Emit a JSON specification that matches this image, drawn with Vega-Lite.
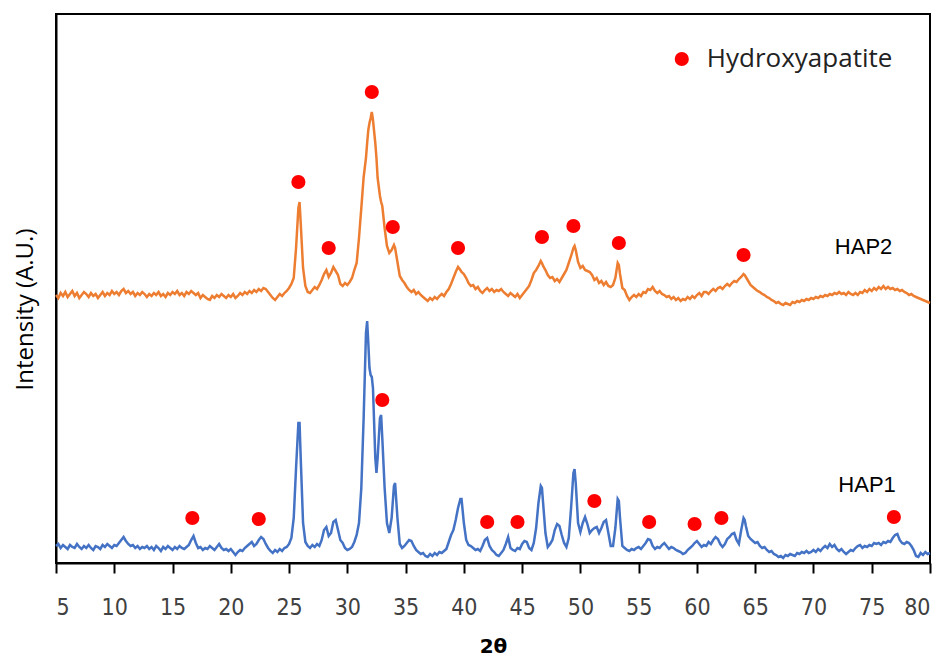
{
  "$schema": "https://vega.github.io/schema/vega-lite/v6.json",
  "width": 874,
  "height": 549,
  "autosize": {"type": "none"},
  "padding": {"left": 56, "top": 14, "right": 16, "bottom": 96},
  "config": {
    "view": {"stroke": "#000000", "strokeWidth": 2},
    "axis": {"grid": false}
  },
  "datasets": {
    "xrd": [
      {"t":5.0,"HAP1":22,"HAP2":273},{"t":5.2,"HAP1":24,"HAP2":270},{"t":5.4,"HAP1":20,"HAP2":275},{"t":5.6,"HAP1":23,"HAP2":272},{"t":5.8,"HAP1":21,"HAP2":276},
      {"t":6.0,"HAP1":19,"HAP2":271},{"t":6.2,"HAP1":23,"HAP2":274},{"t":6.4,"HAP1":21,"HAP2":277},{"t":6.6,"HAP1":20,"HAP2":272},{"t":6.8,"HAP1":24,"HAP2":275},
      {"t":7.0,"HAP1":21,"HAP2":270},{"t":7.2,"HAP1":19,"HAP2":273},{"t":7.4,"HAP1":22,"HAP2":276},{"t":7.6,"HAP1":20,"HAP2":274},{"t":7.8,"HAP1":23,"HAP2":271},
      {"t":8.0,"HAP1":20,"HAP2":275},{"t":8.2,"HAP1":18,"HAP2":272},{"t":8.4,"HAP1":22,"HAP2":274},{"t":8.6,"HAP1":21,"HAP2":270},{"t":8.8,"HAP1":19,"HAP2":273},
      {"t":9.0,"HAP1":23,"HAP2":276},{"t":9.2,"HAP1":21,"HAP2":272},{"t":9.4,"HAP1":24,"HAP2":275},{"t":9.6,"HAP1":22,"HAP2":273},{"t":9.8,"HAP1":20,"HAP2":277},
      {"t":10.0,"HAP1":23,"HAP2":274},{"t":10.2,"HAP1":22,"HAP2":276},{"t":10.4,"HAP1":25,"HAP2":273},{"t":10.6,"HAP1":28,"HAP2":277},{"t":10.8,"HAP1":31,"HAP2":279},
      {"t":11.0,"HAP1":27,"HAP2":275},{"t":11.2,"HAP1":24,"HAP2":277},{"t":11.4,"HAP1":22,"HAP2":274},{"t":11.6,"HAP1":23,"HAP2":276},{"t":11.8,"HAP1":20,"HAP2":272},
      {"t":12.0,"HAP1":22,"HAP2":275},{"t":12.2,"HAP1":19,"HAP2":273},{"t":12.4,"HAP1":21,"HAP2":276},{"t":12.6,"HAP1":20,"HAP2":274},{"t":12.8,"HAP1":22,"HAP2":271},
      {"t":13.0,"HAP1":19,"HAP2":274},{"t":13.2,"HAP1":21,"HAP2":272},{"t":13.4,"HAP1":18,"HAP2":275},{"t":13.6,"HAP1":22,"HAP2":273},{"t":13.8,"HAP1":20,"HAP2":276},
      {"t":14.0,"HAP1":17,"HAP2":272},{"t":14.2,"HAP1":21,"HAP2":274},{"t":14.4,"HAP1":19,"HAP2":271},{"t":14.6,"HAP1":22,"HAP2":275},{"t":14.8,"HAP1":20,"HAP2":273},
      {"t":15.0,"HAP1":18,"HAP2":276},{"t":15.2,"HAP1":21,"HAP2":274},{"t":15.4,"HAP1":19,"HAP2":277},{"t":15.6,"HAP1":22,"HAP2":273},{"t":15.8,"HAP1":20,"HAP2":275},
      {"t":16.0,"HAP1":19,"HAP2":272},{"t":16.2,"HAP1":21,"HAP2":276},{"t":16.4,"HAP1":23,"HAP2":274},{"t":16.6,"HAP1":28,"HAP2":277},{"t":16.8,"HAP1":32,"HAP2":275},
      {"t":17.0,"HAP1":25,"HAP2":273},{"t":17.2,"HAP1":20,"HAP2":275},{"t":17.4,"HAP1":21,"HAP2":270},{"t":17.6,"HAP1":18,"HAP2":273},{"t":17.8,"HAP1":20,"HAP2":271},
      {"t":18.0,"HAP1":19,"HAP2":269},{"t":18.2,"HAP1":22,"HAP2":268},{"t":18.4,"HAP1":20,"HAP2":272},{"t":18.6,"HAP1":18,"HAP2":270},{"t":18.8,"HAP1":21,"HAP2":273},
      {"t":19.0,"HAP1":24,"HAP2":271},{"t":19.2,"HAP1":20,"HAP2":274},{"t":19.4,"HAP1":18,"HAP2":272},{"t":19.6,"HAP1":19,"HAP2":270},{"t":19.8,"HAP1":17,"HAP2":273},
      {"t":20.0,"HAP1":19,"HAP2":271},{"t":20.2,"HAP1":16,"HAP2":274},{"t":20.4,"HAP1":13,"HAP2":270},{"t":20.6,"HAP1":16,"HAP2":272},{"t":20.8,"HAP1":18,"HAP2":275},
      {"t":21.0,"HAP1":17,"HAP2":273},{"t":21.2,"HAP1":20,"HAP2":276},{"t":21.4,"HAP1":22,"HAP2":274},{"t":21.6,"HAP1":24,"HAP2":277},{"t":21.8,"HAP1":26,"HAP2":275},
      {"t":22.0,"HAP1":22,"HAP2":278},{"t":22.2,"HAP1":24,"HAP2":276},{"t":22.4,"HAP1":28,"HAP2":279},{"t":22.6,"HAP1":31,"HAP2":277},{"t":22.8,"HAP1":29,"HAP2":280},
      {"t":23.0,"HAP1":24,"HAP2":279},{"t":23.2,"HAP1":20,"HAP2":276},{"t":23.4,"HAP1":17,"HAP2":273},{"t":23.6,"HAP1":15,"HAP2":270},{"t":23.8,"HAP1":18,"HAP2":268},
      {"t":24.0,"HAP1":16,"HAP2":271},{"t":24.2,"HAP1":19,"HAP2":274},{"t":24.4,"HAP1":17,"HAP2":272},{"t":24.6,"HAP1":20,"HAP2":275},{"t":24.8,"HAP1":21,"HAP2":277},
      {"t":25.0,"HAP1":24,"HAP2":280},{"t":25.2,"HAP1":30,"HAP2":284},{"t":25.4,"HAP1":50,"HAP2":290},{"t":25.6,"HAP1":100,"HAP2":320},{"t":25.8,"HAP1":145,"HAP2":360},
      {"t":25.9,"HAP1":145,"HAP2":366},{"t":26.0,"HAP1":110,"HAP2":345},{"t":26.2,"HAP1":45,"HAP2":300},{"t":26.4,"HAP1":26,"HAP2":282},{"t":26.6,"HAP1":22,"HAP2":276},
      {"t":26.8,"HAP1":20,"HAP2":275},{"t":27.0,"HAP1":23,"HAP2":278},{"t":27.2,"HAP1":21,"HAP2":281},{"t":27.4,"HAP1":24,"HAP2":279},{"t":27.6,"HAP1":22,"HAP2":283},
      {"t":27.8,"HAP1":28,"HAP2":288},{"t":28.0,"HAP1":38,"HAP2":294},{"t":28.2,"HAP1":41,"HAP2":298},{"t":28.4,"HAP1":32,"HAP2":291},{"t":28.6,"HAP1":35,"HAP2":295},
      {"t":28.8,"HAP1":46,"HAP2":301},{"t":29.0,"HAP1":48,"HAP2":297},{"t":29.2,"HAP1":38,"HAP2":293},{"t":29.4,"HAP1":28,"HAP2":284},{"t":29.6,"HAP1":25,"HAP2":282},
      {"t":29.8,"HAP1":20,"HAP2":285},{"t":30.0,"HAP1":18,"HAP2":283},{"t":30.2,"HAP1":19,"HAP2":286},{"t":30.4,"HAP1":21,"HAP2":290},{"t":30.6,"HAP1":26,"HAP2":298},
      {"t":30.8,"HAP1":33,"HAP2":305},{"t":31.0,"HAP1":45,"HAP2":330},{"t":31.2,"HAP1":80,"HAP2":360},{"t":31.4,"HAP1":150,"HAP2":391},{"t":31.6,"HAP1":235,"HAP2":410},
      {"t":31.7,"HAP1":247,"HAP2":425},{"t":31.8,"HAP1":225,"HAP2":438},{"t":31.9,"HAP1":200,"HAP2":445},{"t":32.0,"HAP1":193,"HAP2":450},{"t":32.1,"HAP1":191,"HAP2":456},
      {"t":32.2,"HAP1":180,"HAP2":448},{"t":32.4,"HAP1":110,"HAP2":425},{"t":32.5,"HAP1":95,"HAP2":410},{"t":32.6,"HAP1":110,"HAP2":390},{"t":32.8,"HAP1":150,"HAP2":372},
      {"t":32.9,"HAP1":153,"HAP2":366},{"t":33.0,"HAP1":130,"HAP2":362},{"t":33.2,"HAP1":80,"HAP2":340},{"t":33.4,"HAP1":45,"HAP2":322},{"t":33.6,"HAP1":35,"HAP2":315},
      {"t":33.8,"HAP1":50,"HAP2":318},{"t":34.0,"HAP1":82,"HAP2":323},{"t":34.1,"HAP1":85,"HAP2":320},{"t":34.3,"HAP1":50,"HAP2":306},{"t":34.5,"HAP1":24,"HAP2":292},
      {"t":34.7,"HAP1":20,"HAP2":288},{"t":34.9,"HAP1":22,"HAP2":285},{"t":35.1,"HAP1":25,"HAP2":281},{"t":35.3,"HAP1":28,"HAP2":278},{"t":35.5,"HAP1":27,"HAP2":276},
      {"t":35.7,"HAP1":22,"HAP2":278},{"t":35.9,"HAP1":18,"HAP2":274},{"t":36.1,"HAP1":16,"HAP2":276},{"t":36.3,"HAP1":14,"HAP2":273},{"t":36.5,"HAP1":15,"HAP2":271},
      {"t":36.7,"HAP1":12,"HAP2":269},{"t":36.9,"HAP1":11,"HAP2":267},{"t":37.1,"HAP1":14,"HAP2":270},{"t":37.3,"HAP1":12,"HAP2":268},{"t":37.5,"HAP1":15,"HAP2":271},
      {"t":37.7,"HAP1":13,"HAP2":269},{"t":37.9,"HAP1":16,"HAP2":272},{"t":38.1,"HAP1":15,"HAP2":274},{"t":38.3,"HAP1":17,"HAP2":272},{"t":38.5,"HAP1":19,"HAP2":276},
      {"t":38.7,"HAP1":26,"HAP2":279},{"t":38.9,"HAP1":33,"HAP2":284},{"t":39.1,"HAP1":38,"HAP2":290},{"t":39.3,"HAP1":48,"HAP2":296},{"t":39.5,"HAP1":60,"HAP2":301},
      {"t":39.7,"HAP1":69,"HAP2":298},{"t":39.8,"HAP1":69,"HAP2":296},{"t":40.0,"HAP1":45,"HAP2":294},{"t":40.2,"HAP1":28,"HAP2":290},{"t":40.4,"HAP1":23,"HAP2":285},
      {"t":40.6,"HAP1":22,"HAP2":282},{"t":40.8,"HAP1":20,"HAP2":283},{"t":41.0,"HAP1":18,"HAP2":279},{"t":41.2,"HAP1":19,"HAP2":281},{"t":41.4,"HAP1":17,"HAP2":277},
      {"t":41.6,"HAP1":22,"HAP2":275},{"t":41.8,"HAP1":28,"HAP2":278},{"t":42.0,"HAP1":30,"HAP2":280},{"t":42.2,"HAP1":22,"HAP2":277},{"t":42.4,"HAP1":18,"HAP2":279},
      {"t":42.6,"HAP1":16,"HAP2":276},{"t":42.8,"HAP1":13,"HAP2":278},{"t":43.0,"HAP1":12,"HAP2":277},{"t":43.2,"HAP1":15,"HAP2":279},{"t":43.4,"HAP1":18,"HAP2":276},
      {"t":43.6,"HAP1":24,"HAP2":274},{"t":43.8,"HAP1":31,"HAP2":272},{"t":44.0,"HAP1":20,"HAP2":275},{"t":44.2,"HAP1":18,"HAP2":273},{"t":44.4,"HAP1":17,"HAP2":271},
      {"t":44.6,"HAP1":20,"HAP2":274},{"t":44.8,"HAP1":19,"HAP2":270},{"t":45.0,"HAP1":24,"HAP2":273},{"t":45.2,"HAP1":27,"HAP2":276},{"t":45.4,"HAP1":26,"HAP2":279},
      {"t":45.6,"HAP1":20,"HAP2":282},{"t":45.8,"HAP1":18,"HAP2":288},{"t":46.0,"HAP1":25,"HAP2":295},{"t":46.2,"HAP1":40,"HAP2":298},{"t":46.4,"HAP1":65,"HAP2":302},
      {"t":46.6,"HAP1":82,"HAP2":307},{"t":46.7,"HAP1":80,"HAP2":305},{"t":46.8,"HAP1":65,"HAP2":302},{"t":47.0,"HAP1":35,"HAP2":298},{"t":47.2,"HAP1":21,"HAP2":293},
      {"t":47.4,"HAP1":24,"HAP2":290},{"t":47.6,"HAP1":28,"HAP2":291},{"t":47.8,"HAP1":38,"HAP2":287},{"t":48.0,"HAP1":44,"HAP2":289},{"t":48.2,"HAP1":42,"HAP2":286},
      {"t":48.4,"HAP1":33,"HAP2":290},{"t":48.6,"HAP1":25,"HAP2":294},{"t":48.8,"HAP1":21,"HAP2":298},{"t":49.0,"HAP1":30,"HAP2":305},{"t":49.2,"HAP1":60,"HAP2":312},
      {"t":49.4,"HAP1":95,"HAP2":320},{"t":49.5,"HAP1":99,"HAP2":322},{"t":49.6,"HAP1":85,"HAP2":318},{"t":49.8,"HAP1":45,"HAP2":306},{"t":50.0,"HAP1":36,"HAP2":300},
      {"t":50.2,"HAP1":45,"HAP2":302},{"t":50.4,"HAP1":51,"HAP2":298},{"t":50.6,"HAP1":44,"HAP2":297},{"t":50.8,"HAP1":35,"HAP2":296},{"t":51.0,"HAP1":38,"HAP2":293},
      {"t":51.2,"HAP1":40,"HAP2":288},{"t":51.4,"HAP1":41,"HAP2":290},{"t":51.6,"HAP1":35,"HAP2":285},{"t":51.8,"HAP1":40,"HAP2":287},{"t":52.0,"HAP1":46,"HAP2":283},
      {"t":52.2,"HAP1":48,"HAP2":286},{"t":52.4,"HAP1":35,"HAP2":282},{"t":52.6,"HAP1":22,"HAP2":281},{"t":52.8,"HAP1":22,"HAP2":283},{"t":53.0,"HAP1":40,"HAP2":290},
      {"t":53.2,"HAP1":69,"HAP2":305},{"t":53.3,"HAP1":67,"HAP2":303},{"t":53.4,"HAP1":50,"HAP2":294},{"t":53.6,"HAP1":22,"HAP2":280},{"t":53.8,"HAP1":20,"HAP2":278},
      {"t":54.0,"HAP1":18,"HAP2":272},{"t":54.2,"HAP1":17,"HAP2":268},{"t":54.4,"HAP1":19,"HAP2":271},{"t":54.6,"HAP1":18,"HAP2":273},{"t":54.8,"HAP1":20,"HAP2":271},
      {"t":55.0,"HAP1":21,"HAP2":274},{"t":55.2,"HAP1":19,"HAP2":272},{"t":55.4,"HAP1":22,"HAP2":276},{"t":55.6,"HAP1":25,"HAP2":275},{"t":55.8,"HAP1":29,"HAP2":279},
      {"t":56.0,"HAP1":28,"HAP2":278},{"t":56.2,"HAP1":22,"HAP2":281},{"t":56.4,"HAP1":19,"HAP2":277},{"t":56.6,"HAP1":21,"HAP2":275},{"t":56.8,"HAP1":20,"HAP2":277},
      {"t":57.0,"HAP1":23,"HAP2":274},{"t":57.2,"HAP1":25,"HAP2":273},{"t":57.4,"HAP1":22,"HAP2":271},{"t":57.6,"HAP1":19,"HAP2":272},{"t":57.8,"HAP1":21,"HAP2":269},
      {"t":58.0,"HAP1":20,"HAP2":271},{"t":58.2,"HAP1":18,"HAP2":268},{"t":58.4,"HAP1":17,"HAP2":270},{"t":58.6,"HAP1":16,"HAP2":267},{"t":58.8,"HAP1":14,"HAP2":269},
      {"t":59.0,"HAP1":15,"HAP2":268},{"t":59.2,"HAP1":18,"HAP2":271},{"t":59.4,"HAP1":20,"HAP2":269},{"t":59.6,"HAP1":22,"HAP2":272},{"t":59.8,"HAP1":25,"HAP2":270},
      {"t":60.0,"HAP1":27,"HAP2":273},{"t":60.2,"HAP1":24,"HAP2":275},{"t":60.4,"HAP1":21,"HAP2":272},{"t":60.6,"HAP1":23,"HAP2":276},{"t":60.8,"HAP1":22,"HAP2":276},
      {"t":61.0,"HAP1":26,"HAP2":274},{"t":61.2,"HAP1":24,"HAP2":277},{"t":61.4,"HAP1":28,"HAP2":279},{"t":61.6,"HAP1":31,"HAP2":277},{"t":61.8,"HAP1":29,"HAP2":280},
      {"t":62.0,"HAP1":24,"HAP2":281},{"t":62.2,"HAP1":21,"HAP2":279},{"t":62.4,"HAP1":24,"HAP2":282},{"t":62.6,"HAP1":29,"HAP2":284},{"t":62.8,"HAP1":31,"HAP2":282},
      {"t":63.0,"HAP1":34,"HAP2":285},{"t":63.2,"HAP1":35,"HAP2":287},{"t":63.4,"HAP1":28,"HAP2":286},{"t":63.6,"HAP1":24,"HAP2":289},{"t":63.8,"HAP1":38,"HAP2":291},
      {"t":64.0,"HAP1":50,"HAP2":294},{"t":64.1,"HAP1":48,"HAP2":293},{"t":64.2,"HAP1":42,"HAP2":291},{"t":64.4,"HAP1":32,"HAP2":287},{"t":64.6,"HAP1":29,"HAP2":283},
      {"t":64.8,"HAP1":27,"HAP2":281},{"t":65.0,"HAP1":25,"HAP2":279},{"t":65.2,"HAP1":26,"HAP2":277},{"t":65.4,"HAP1":22,"HAP2":276},{"t":65.6,"HAP1":20,"HAP2":274},
      {"t":65.8,"HAP1":21,"HAP2":273},{"t":66.0,"HAP1":18,"HAP2":271},{"t":66.2,"HAP1":16,"HAP2":270},{"t":66.4,"HAP1":17,"HAP2":268},{"t":66.6,"HAP1":14,"HAP2":267},
      {"t":66.8,"HAP1":13,"HAP2":265},{"t":67.0,"HAP1":11,"HAP2":266},{"t":67.2,"HAP1":12,"HAP2":264},{"t":67.4,"HAP1":10,"HAP2":263},{"t":67.6,"HAP1":13,"HAP2":265},
      {"t":67.8,"HAP1":12,"HAP2":264},{"t":68.0,"HAP1":14,"HAP2":263},{"t":68.2,"HAP1":13,"HAP2":266},{"t":68.4,"HAP1":12,"HAP2":265},{"t":68.6,"HAP1":15,"HAP2":267},
      {"t":68.8,"HAP1":14,"HAP2":266},{"t":69.0,"HAP1":16,"HAP2":268},{"t":69.2,"HAP1":15,"HAP2":267},{"t":69.4,"HAP1":17,"HAP2":269},{"t":69.6,"HAP1":15,"HAP2":268},
      {"t":69.8,"HAP1":16,"HAP2":270},{"t":70.0,"HAP1":18,"HAP2":269},{"t":70.2,"HAP1":16,"HAP2":271},{"t":70.4,"HAP1":19,"HAP2":270},{"t":70.6,"HAP1":17,"HAP2":272},
      {"t":70.8,"HAP1":20,"HAP2":271},{"t":71.0,"HAP1":22,"HAP2":273},{"t":71.2,"HAP1":20,"HAP2":272},{"t":71.4,"HAP1":24,"HAP2":274},{"t":71.6,"HAP1":21,"HAP2":273},
      {"t":71.8,"HAP1":23,"HAP2":275},{"t":72.0,"HAP1":19,"HAP2":274},{"t":72.2,"HAP1":17,"HAP2":276},{"t":72.4,"HAP1":19,"HAP2":274},{"t":72.6,"HAP1":16,"HAP2":275},
      {"t":72.8,"HAP1":14,"HAP2":273},{"t":73.0,"HAP1":16,"HAP2":276},{"t":73.2,"HAP1":18,"HAP2":274},{"t":73.4,"HAP1":17,"HAP2":273},{"t":73.6,"HAP1":20,"HAP2":275},
      {"t":73.8,"HAP1":22,"HAP2":273},{"t":74.0,"HAP1":23,"HAP2":276},{"t":74.2,"HAP1":20,"HAP2":275},{"t":74.4,"HAP1":22,"HAP2":278},{"t":74.6,"HAP1":21,"HAP2":276},
      {"t":74.8,"HAP1":23,"HAP2":279},{"t":75.0,"HAP1":22,"HAP2":277},{"t":75.2,"HAP1":25,"HAP2":280},{"t":75.4,"HAP1":24,"HAP2":278},{"t":75.6,"HAP1":25,"HAP2":281},
      {"t":75.8,"HAP1":23,"HAP2":279},{"t":76.0,"HAP1":26,"HAP2":282},{"t":76.2,"HAP1":25,"HAP2":279},{"t":76.4,"HAP1":27,"HAP2":281},{"t":76.6,"HAP1":26,"HAP2":279},
      {"t":76.8,"HAP1":30,"HAP2":280},{"t":77.0,"HAP1":33,"HAP2":278},{"t":77.2,"HAP1":34,"HAP2":279},{"t":77.4,"HAP1":28,"HAP2":277},{"t":77.6,"HAP1":25,"HAP2":278},
      {"t":77.8,"HAP1":24,"HAP2":276},{"t":78.0,"HAP1":26,"HAP2":275},{"t":78.2,"HAP1":25,"HAP2":273},{"t":78.4,"HAP1":22,"HAP2":274},{"t":78.6,"HAP1":18,"HAP2":272},
      {"t":78.8,"HAP1":12,"HAP2":271},{"t":79.0,"HAP1":11,"HAP2":270},{"t":79.2,"HAP1":15,"HAP2":269},{"t":79.4,"HAP1":13,"HAP2":268},{"t":79.6,"HAP1":16,"HAP2":267},
      {"t":79.8,"HAP1":14,"HAP2":266},{"t":80.0,"HAP1":15,"HAP2":265}
    ],
    "dots": [
      {"t":16.7,"v":50},{"t":22.4,"v":49},{"t":33.0,"v":168},{"t":42.0,"v":46},{"t":44.6,"v":46},
      {"t":51.2,"v":67},{"t":55.9,"v":46},{"t":59.8,"v":44},{"t":62.1,"v":50},{"t":76.9,"v":51},
      {"t":25.8,"v":386},{"t":28.4,"v":320},{"t":32.1,"v":476},{"t":33.9,"v":341},{"t":39.5,"v":320},
      {"t":46.7,"v":331},{"t":49.4,"v":342},{"t":53.3,"v":325},{"t":64.0,"v":313},
      {"t":58.7,"v":509}
    ],
    "labels": [
      {"t":74.6,"v":83,"label":"HAP1"},
      {"t":74.3,"v":321,"label":"HAP2"}
    ],
    "legendText": [
      {"t":60.85,"v":509,"label":"Hydroxyapatite"}
    ]
  },
  "encoding": {
    "x": {
      "field": "t", "type": "quantitative",
      "scale": {"domain": [5, 80], "nice": false, "zero": false},
      "axis": {
        "title": "2θ", "values": [5,10,15,20,25,30,35,40,45,50,55,60,65,70,75,80],
        "domainColor": "#000000", "domainWidth": 2, "tickColor": "#000000", "tickWidth": 2, "tickSize": 10,
        "labelFont": "DejaVu Sans Condensed, DejaVu Sans", "labelFontSize": 23, "labelColor": "#404040", "labelPadding": 23,
        "titleFont": "DejaVu Sans", "titleFontSize": 20, "titleFontWeight": "bold", "titleColor": "#000000", "titlePadding": 17
      }
    },
    "y": {
      "field": "v", "type": "quantitative",
      "scale": {"domain": [5, 554], "nice": false, "zero": false},
      "axis": {
        "title": "Intensity (A.U.)", "labels": false, "ticks": false,
        "domainColor": "#000000", "domainWidth": 2,
        "titleFont": "Open Sans", "titleFontSize": 24, "titleFontWeight": "normal", "titleColor": "#000000",
        "titleX": -31, "titleY": 295, "titleBaseline": "middle", "titleAngle": -90
      }
    }
  },
  "layer": [
    {
      "data": {"name": "xrd"},
      "transform": [{"fold": ["HAP1", "HAP2"], "as": ["series", "v"]}],
      "mark": {"type": "line", "strokeWidth": 2.5, "interpolate": "linear"},
      "encoding": {
        "color": {"field": "series", "type": "nominal", "scale": {"domain": ["HAP1", "HAP2"], "range": ["#4472C4", "#ED7D31"]}, "legend": null}
      }
    },
    {
      "data": {"name": "dots"},
      "mark": {"type": "circle", "size": 200, "color": "#FF0000", "opacity": 1}
    },
    {
      "data": {"name": "labels"},
      "mark": {"type": "text", "font": "Liberation Sans", "fontSize": 22, "color": "#000000", "align": "center", "baseline": "middle"},
      "encoding": {"text": {"field": "label"}}
    },
    {
      "data": {"name": "legendText"},
      "mark": {"type": "text", "font": "Open Sans", "fontSize": 26, "color": "#222222", "align": "left", "baseline": "middle"},
      "encoding": {"text": {"field": "label"}}
    }
  ]
}
